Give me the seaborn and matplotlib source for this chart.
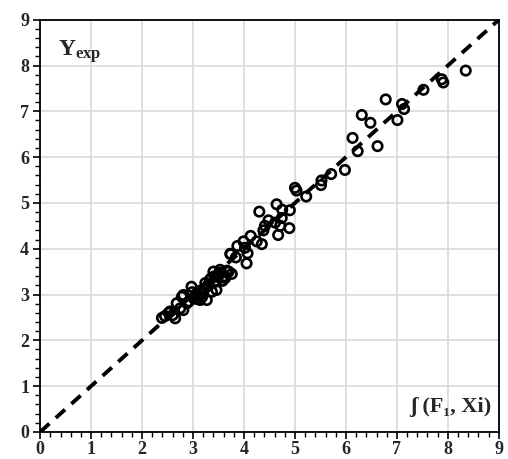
import numpy as np
import pandas as pd
import matplotlib
matplotlib.use("Agg")
import matplotlib.pyplot as plt
import seaborn as sns
from matplotlib.ticker import MultipleLocator

# Predicted values f(F1, Xi) and experimental values Y_exp
f_pred = [
    8.35, 7.88, 7.91, 7.52, 7.10, 7.14, 7.01, 6.78, 6.31, 6.48,
    6.13, 6.62, 6.23, 5.98, 5.71, 5.52, 5.51, 5.00, 5.03, 5.22,
    4.64, 4.30, 4.75, 4.90, 4.74, 4.48, 4.61, 4.41, 4.38, 4.71,
    4.89, 4.67, 4.13, 4.25, 4.35, 3.99, 3.87, 4.02, 4.07, 3.74,
    3.84, 4.05, 3.73, 3.40, 3.53, 3.66, 3.76, 3.46, 3.63, 3.46,
    3.37, 2.97, 2.81, 3.01, 3.14, 3.27, 3.20, 2.68, 2.65, 2.55,
    2.45, 2.81, 2.88, 3.10, 3.30, 3.33, 3.24, 2.78, 2.52, 2.39,
    3.05, 3.12, 3.18, 3.42, 3.50, 3.58, 3.70, 3.35, 3.22, 3.08,
    2.92, 2.75, 2.60, 3.55, 3.62, 3.45, 3.28, 2.98,
]
y_exp = [
    7.89, 7.70, 7.63, 7.47, 7.16, 7.05, 6.81, 7.26, 6.92, 6.75,
    6.42, 6.24, 6.13, 5.72, 5.63, 5.49, 5.39, 5.33, 5.27, 5.14,
    4.97, 4.81, 4.85, 4.84, 4.67, 4.62, 4.57, 4.50, 4.40, 4.50,
    4.45, 4.30, 4.28, 4.16, 4.10, 4.16, 4.06, 4.02, 3.90, 3.88,
    3.81, 3.68, 3.89, 3.50, 3.54, 3.52, 3.45, 3.39, 3.36, 3.10,
    3.06, 3.17, 2.99, 2.92, 2.88, 2.88, 3.03, 2.81, 2.48, 2.63,
    2.53, 2.66, 2.81, 2.99, 3.21, 3.32, 3.25, 2.95, 2.60, 2.49,
    3.00, 3.08, 2.95, 3.40, 3.42, 3.30, 3.50, 3.35, 3.12, 2.90,
    2.85, 2.70, 2.55, 3.48, 3.40, 3.28, 3.18, 3.05,
]
diag = [0, 9]

df = pd.DataFrame({"f": f_pred, "y": y_exp})

sns.set_style("white")
plt.rcParams["font.family"] = ["Liberation Serif", "DejaVu Serif"]
plt.rcParams["mathtext.fontset"] = "custom"
plt.rcParams["mathtext.rm"] = "Liberation Serif:bold"
plt.rcParams["mathtext.bf"] = "Liberation Serif:bold"
plt.rcParams["mathtext.it"] = "Liberation Serif:bold"

fig = plt.figure(figsize=(5.08, 4.59), dpi=100)
ax = fig.add_axes([0.079, 0.059, 0.903, 0.898])

ax.grid(True, which="major", color="#d9d9d9", linewidth=1.2)
ax.set_axisbelow(True)

sns.lineplot(x=diag, y=diag, ax=ax, color="black", linewidth=2.8,
             linestyle=(0, (3.2, 2.2)), zorder=3)
sns.scatterplot(data=df, x="f", y="y", ax=ax, marker="o", s=46,
                facecolor="none", edgecolor="black", linewidth=1.9, zorder=4)

ax.set_xlim(0, 9)
ax.set_ylim(0, 9)
ax.xaxis.set_major_locator(MultipleLocator(1))
ax.yaxis.set_major_locator(MultipleLocator(1))
ax.xaxis.set_minor_locator(MultipleLocator(0.2))
ax.yaxis.set_minor_locator(MultipleLocator(0.2))
ax.tick_params(which="major", direction="out", length=5, width=1.2,
               labelsize=13, color="black", pad=3)
ax.tick_params(axis="x", which="major", pad=1.5)
ax.tick_params(which="minor", direction="out", length=3.5, width=1.0,
               color="black")
ax.tick_params(axis="both", which="both", bottom=True, left=True)
for lbl in ax.get_xticklabels() + ax.get_yticklabels():
    lbl.set_fontweight("bold")
ax.set_xlabel("")
ax.set_ylabel("")

for sp in ax.spines.values():
    sp.set_color("black")
    sp.set_linewidth(1.3)

ax.text(0.35, 8.3, r"$\mathbf{Y_{exp}}$", fontsize=17, ha="left", va="center")
ax.text(8.85, 0.55, "\u0283 (F\u2081, Xi)", fontsize=16, fontweight="bold",
        ha="right", va="center")

fig.savefig("out.png", dpi=100)
